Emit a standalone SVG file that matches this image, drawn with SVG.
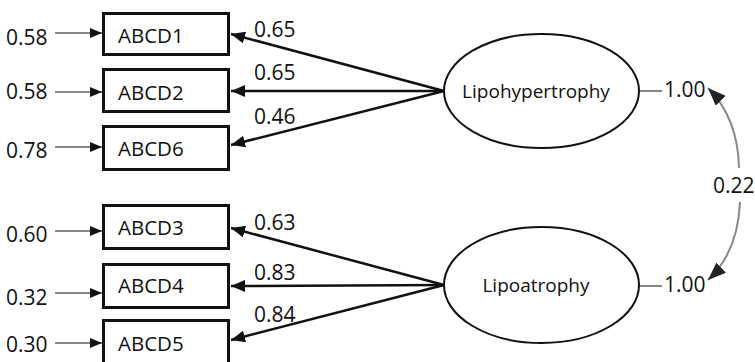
<svg xmlns="http://www.w3.org/2000/svg" width="755" height="362" viewBox="0 0 755 362">
<style>
text{font-family:"Open Sans","Noto Sans","DejaVu Sans",sans-serif;fill:#111;}
.lbl{font-size:21px;}
.nt{font-size:20.5px;}
.lt{font-size:19px;text-anchor:middle;}
.box{fill:#fff;stroke:#111;stroke-width:3;}
.ell{fill:#fff;stroke:#111;stroke-width:2;}
.err{stroke:#111;stroke-width:1.2;fill:none;}
.load{stroke:#111;stroke-width:2.5;fill:none;}
.cov{stroke:#888;stroke-width:2;fill:none;}
.tick{stroke:#111;stroke-width:1;}
</style>
<defs>
<marker id="as" markerUnits="userSpaceOnUse" markerWidth="12" markerHeight="10" refX="12" refY="5" orient="auto">
<path d="M0,0 L12,5 L0,10 z" fill="#111"/>
</marker>
<marker id="al" markerUnits="userSpaceOnUse" markerWidth="14" markerHeight="12" refX="14" refY="6" orient="auto">
<path d="M0,0 L14,6 L0,12 z" fill="#111"/>
</marker>
<marker id="ac" markerUnits="userSpaceOnUse" markerWidth="18" markerHeight="14" refX="18" refY="7" orient="auto">
<path d="M0,0 L18,7 L0,14 z" fill="#222"/>
</marker>
</defs>
<g id="connectors">
<line class="err" x1="55" y1="33" x2="102" y2="33" marker-end="url(#as)"/>
<line class="err" x1="55" y1="92" x2="102" y2="92" marker-end="url(#as)"/>
<line class="err" x1="55" y1="147" x2="102" y2="147" marker-end="url(#as)"/>
<line class="err" x1="55" y1="231" x2="102" y2="231" marker-end="url(#as)"/>
<line class="err" x1="55" y1="293" x2="102" y2="293" marker-end="url(#as)"/>
<line class="err" x1="55" y1="343" x2="102" y2="343" marker-end="url(#as)"/>
<line class="load" x1="444" y1="91" x2="231" y2="34" marker-end="url(#al)"/>
<line class="load" x1="444" y1="91" x2="231" y2="91" marker-end="url(#al)"/>
<line class="load" x1="444" y1="91" x2="231" y2="145" marker-end="url(#al)"/>
<line class="load" x1="444" y1="285" x2="231" y2="228" marker-end="url(#al)"/>
<line class="load" x1="444" y1="285" x2="231" y2="286" marker-end="url(#al)"/>
<line class="load" x1="444" y1="285" x2="231" y2="340" marker-end="url(#al)"/>
<line class="tick" x1="639" y1="91" x2="662" y2="91"/>
<line class="tick" x1="639" y1="286" x2="662" y2="286"/>
<path class="cov" d="M739,168 Q738,118 708,88" marker-end="url(#ac)"/>
<path class="cov" d="M740,202 Q738,252 708,280" marker-end="url(#ac)"/>
<text class="lbl" x="6" y="45">0.58</text>
<text class="lbl" x="6" y="99">0.58</text>
<text class="lbl" x="6" y="158">0.78</text>
<text class="lbl" x="6" y="242">0.60</text>
<text class="lbl" x="6" y="305">0.32</text>
<text class="lbl" x="6" y="352">0.30</text>
<text class="lbl" x="254" y="37">0.65</text>
<text class="lbl" x="254" y="80">0.65</text>
<text class="lbl" x="254" y="124">0.46</text>
<text class="lbl" x="254" y="230">0.63</text>
<text class="lbl" x="254" y="280">0.83</text>
<text class="lbl" x="254" y="322">0.84</text>
<text class="lbl" x="664" y="97">1.00</text>
<text class="lbl" x="664" y="292">1.00</text>
<text class="lbl" x="713" y="193">0.22</text>
</g>
<g id="ABCD1"><rect class="box" x="103.5" y="13.5" width="125" height="41"/><text class="nt" x="118" y="43">ABCD1</text></g>
<g id="ABCD2"><rect class="box" x="103.5" y="69.5" width="125" height="42"/><text class="nt" x="118" y="100">ABCD2</text></g>
<g id="ABCD6"><rect class="box" x="103.5" y="126.5" width="125" height="43"/><text class="nt" x="118" y="156">ABCD6</text></g>
<g id="ABCD3"><rect class="box" x="103.5" y="205.5" width="125" height="43"/><text class="nt" x="118" y="235">ABCD3</text></g>
<g id="ABCD4"><rect class="box" x="103.5" y="264.5" width="125" height="43"/><text class="nt" x="118" y="293">ABCD4</text></g>
<g id="ABCD5"><rect class="box" x="103.5" y="320.5" width="125" height="50"/><text class="nt" x="118" y="351">ABCD5</text></g>
<g id="Lipohypertrophy"><ellipse class="ell" cx="541.5" cy="91" rx="97.5" ry="57"/><text class="lt" x="536" y="98">Lipohypertrophy</text></g>
<g id="Lipoatrophy"><ellipse class="ell" cx="541.5" cy="285" rx="97.5" ry="58"/><text class="lt" x="536" y="292">Lipoatrophy</text></g>
</svg>
